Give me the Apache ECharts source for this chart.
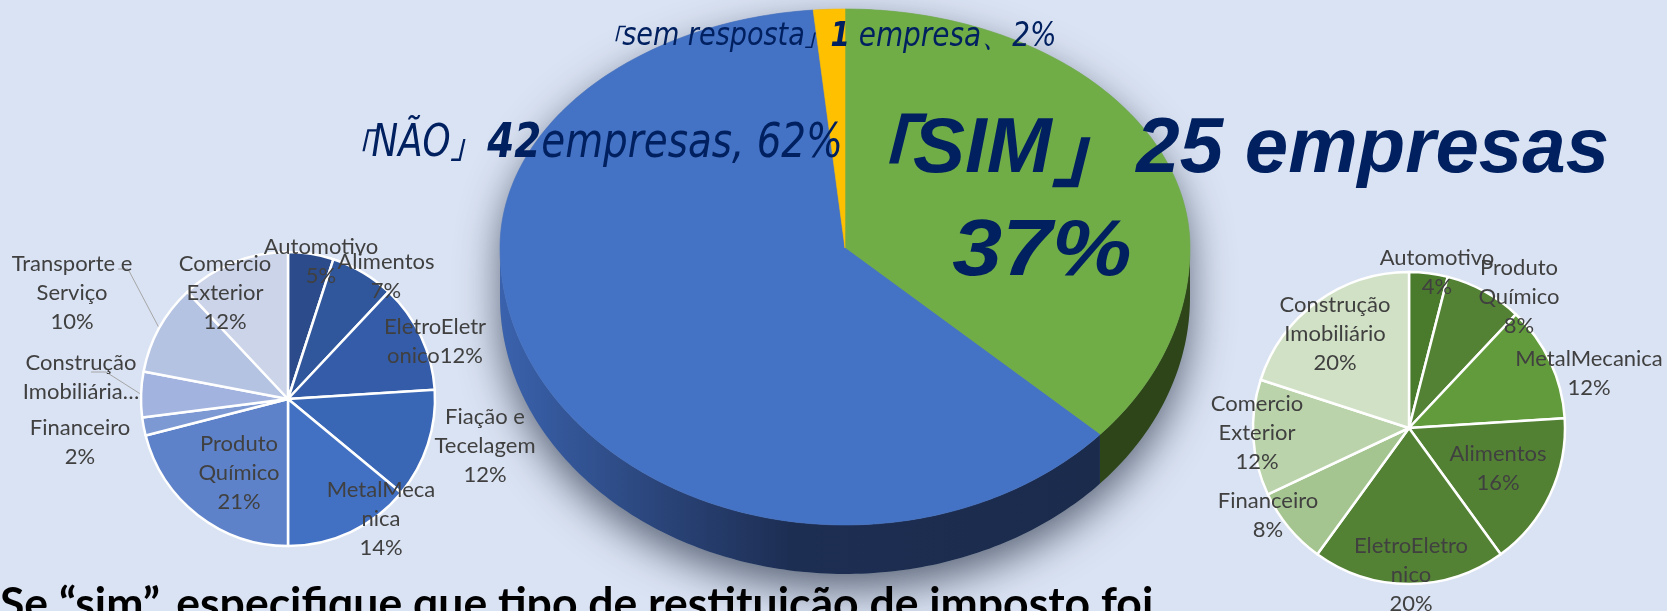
<!DOCTYPE html>
<html>
<head>
<meta charset="utf-8">
<script src="https://cdn.jsdelivr.net/npm/echarts@6/dist/echarts.min.js"></script>
<style>
html, body { margin: 0; padding: 0; background: #dae3f3; }
#chart { width: 1667px; height: 611px; }
</style>
</head>
<body>
<div id="chart"></div>
<script>
// main pie: answer, number of companies, printed percentage
var mainNames = ['SIM', 'NÃO', 'sem resposta'];
var mainCounts = [25, 42, 1];
var mainPct = ['37%', '62%', '2%'];
var mainUnit = ['empresas', 'empresas', 'empresa'];

// "NÃO" breakdown by sector (%)
var leftNames = ['Automotivo', 'Alimentos', 'EletroEletronico', 'Fiação e Tecelagem', 'MetalMecanica',
    'Produto Químico', 'Financeiro', 'Construção Imobiliária', 'Transporte e Serviço', 'Comercio Exterior'];
var leftValues = [5, 7, 12, 12, 14, 21, 2, 5, 10, 12];
var leftLabels = ['Automotivo\n5%', 'Alimentos\n7%', 'EletroEletr\nonico12%', 'Fiação e\nTecelagem\n12%',
    'MetalMeca\nnica\n14%', 'Produto\nQuímico\n21%', 'Financeiro\n2%', 'Construção\nImobiliária…',
    'Transporte e\nServiço\n10%', 'Comercio\nExterior\n12%'];

// "SIM" breakdown by sector (%)
var rightNames = ['Automotivo', 'Produto Químico', 'MetalMecanica', 'Alimentos', 'EletroEletronico',
    'Financeiro', 'Comercio Exterior', 'Construção Imobiliário'];
var rightValues = [4, 8, 12, 16, 20, 8, 12, 20];
var rightLabels = ['Automotivo\n4%', 'Produto\nQuímico\n8%', 'MetalMecanica\n12%', 'Alimentos\n16%',
    'EletroEletro\nnico\n20%', 'Financeiro\n8%', 'Comercio\nExterior\n12%', 'Construção\nImobiliário\n20%'];

var titleText = 'Se “sim”, especifique que tipo de restituição de imposto foi';

// styles and layout
var leftColors = ['#2b4b8a', '#30569b', '#345ca8', '#3a66b6', '#4270c3', '#5e82c9', '#7d99d4', '#a1b3de', '#b5c3e3', '#ccd4ea'];
var rightColors = ['#4a7a2c', '#548235', '#629b3c', '#538134', '#548235', '#a5c590', '#bad3aa', '#d1e1c5'];
var leftLabelAt = [[321, 261], [386, 276], [435, 341], [485, 446], [381, 519], [239, 473], [80, 442], [81, 377], [72, 293], [225, 293]];
var rightLabelAt = [[1437, 272], [1519, 297], [1589, 373], [1498, 468], [1411, 575], [1268, 515], [1257, 433], [1335, 334]];
var leftLeader = { 7: [[106, 372], [91, 372]], 8: [[128, 269], [118, 269]] };

var navy = '#002060';
var topColors = ['#70ad47', '#4472c4', '#ffc000'];
var sideColors = ['#2d4519', {
    type: 'linear', x: 500, y: 0, x2: 1190, y2: 0, global: true,
    colorStops: [{ offset: 0, color: '#3a62ad' }, { offset: 0.22, color: '#2b467c' },
        { offset: 0.42, color: '#1d2e53' }, { offset: 1, color: '#1a2a4a' }]
}, '#7f6000'];
var P = { cx: 845, cy: 248, rx: 345, ryTop: 239, ryBot: 277, depth: 49 };

var total = 0, cum = [0];
for (var i = 0; i < mainCounts.length; i++) {
    total += mainCounts[i];
    cum.push(total);
}

function rim(t, dz) {
    var c = Math.cos(t);
    return [P.cx + P.rx * Math.sin(t), P.cy - (c >= 0 ? P.ryTop : P.ryBot) * c + dz];
}
function arc(a0, a1, dz) {
    var pts = [];
    var n = Math.max(2, Math.ceil((a1 - a0) / (Math.PI / 180)));
    for (var k = 0; k <= n; k++) pts.push(rim(a0 + (a1 - a0) * k / n, dz));
    return pts;
}

function renderMain(params, api) {
    var i = params.dataIndex;
    var a0 = cum[i] / total * 2 * Math.PI;
    var a1 = (cum[i] + api.value(0)) / total * 2 * Math.PI;
    var kids = [];
    if (i === 0) {
        var sil = arc(-Math.PI / 2, Math.PI / 2, 0).concat(arc(Math.PI / 2, Math.PI * 1.5, P.depth));
        kids.push({
            type: 'polygon', shape: { points: sil },
            style: { fill: '#8f98a8', shadowBlur: 40, shadowColor: 'rgba(45,55,75,0.72)', shadowOffsetY: 16 }
        });
    }
    var s = Math.max(a0, Math.PI / 2), e = Math.min(a1, Math.PI * 1.5);
    if (e > s) {
        kids.push({
            type: 'polygon',
            shape: { points: arc(s, e, 0).concat(arc(s, e, P.depth).reverse()) },
            style: { fill: sideColors[i] }
        });
    }
    kids.push({
        type: 'polygon',
        shape: { points: [[P.cx, P.cy]].concat(arc(a0, a1, 0)) },
        style: { fill: topColors[i], stroke: topColors[i], lineWidth: 0.6 }
    });
    return { type: 'group', children: kids };
}

function sidePie(names, values, colors, labels, center, radius, labelAt, leader) {
    return {
        type: 'pie',
        center: center,
        radius: radius,
        startAngle: 90,
        clockwise: true,
        silent: true,
        animation: false,
        data: names.map(function (n, i) {
            var d = { name: n, value: values[i], itemStyle: { color: colors[i] } };
            if (leader && leader[i]) {
                d.label = { position: 'outside', overflow: 'none' };
                d.labelLine = { show: true, lineStyle: { color: '#a6a6a6', width: 1 } };
            }
            return d;
        }),
        itemStyle: { borderColor: '#ffffff', borderWidth: 2.5 },
        label: {
            show: true,
            position: 'inside',
            overflow: 'none',
            color: '#404040',
            fontFamily: 'Lato',
            fontSize: 22,
            lineHeight: 29,
            formatter: function (p) { return labels[p.dataIndex]; }
        },
        labelLine: { show: false },
        labelLayout: function (p) {
            var at = labelAt[p.dataIndex];
            var o = { x: at[0], y: at[1], align: 'center', verticalAlign: 'middle' };
            if (leader && leader[p.dataIndex] && p.labelLinePoints) {
                o.labelLinePoints = [p.labelLinePoints[0], leader[p.dataIndex][0], leader[p.dataIndex][1]];
            }
            return o;
        }
    };
}

var narrow = "'Liberation Sans Narrow', 'DejaVu Sans Condensed', sans-serif";
var wide = "'Liberation Sans', Arial, sans-serif";
var cjk = "'Noto Sans CJK JP', sans-serif";

var myChart = echarts.init(document.getElementById('chart'));
var option = {
    backgroundColor: '#dae3f3',
    animation: false,
    series: [
        {
            type: 'custom',
            coordinateSystem: 'none',
            silent: true,
            z: 1,
            renderItem: renderMain,
            data: mainCounts
        },
        sidePie(leftNames, leftValues, leftColors, leftLabels, [288, 399], 147, leftLabelAt, leftLeader),
        sidePie(rightNames, rightValues, rightColors, rightLabels, [1409, 428], 156, rightLabelAt, null)
    ],
    graphic: {
        zlevel: 1,
        elements: [
            {
                type: 'text', x: 828, y: 37, scaleX: 0.94, silent: true, z: 100,
                style: {
                    text: '{b|「}{n|' + mainNames[2] + '}{b|」} {num|' + mainCounts[2] + '}{t| ' + mainUnit[2] + '、' + mainPct[2] + '}',
                    align: 'center', verticalAlign: 'middle', textAlign: 'center', textVerticalAlign: 'middle',
                    fill: navy,
                    rich: {
                        b: { fontFamily: cjk, fontSize: 24, fontStyle: 'italic', fill: navy },
                        n: { fontFamily: narrow, fontSize: 32, fontStyle: 'italic', fill: navy },
                        num: { fontFamily: narrow, fontSize: 33, fontStyle: 'italic', fontWeight: 'bold', fill: navy },
                        t: { fontFamily: narrow, fontSize: 33, fontStyle: 'italic', fill: navy }
                    }
                }
            },
            {
                type: 'text', x: 592, y: 145, scaleX: 0.9, silent: true, z: 100,
                style: {
                    text: '{b|「}{n|' + mainNames[1] + '}{b|」}  {num|' + mainCounts[1] + '}{t|' + mainUnit[1] + ', ' + mainPct[1] + '}',
                    align: 'center', verticalAlign: 'middle', textAlign: 'center', textVerticalAlign: 'middle',
                    fill: navy,
                    rich: {
                        b: { fontFamily: cjk, fontSize: 34, fontStyle: 'italic', fill: navy },
                        n: { fontFamily: narrow, fontSize: 44, fontStyle: 'italic', fill: navy },
                        num: { fontFamily: narrow, fontSize: 48, fontStyle: 'italic', fontWeight: 'bold', fill: navy },
                        t: { fontFamily: narrow, fontSize: 48, fontStyle: 'italic', fill: navy }
                    }
                }
            },
            {
                type: 'text', x: 1222, y: 150, silent: true, z: 100,
                style: {
                    text: '{b|「}{n|' + mainNames[0] + '}{b|」}  {n|' + mainCounts[0] + ' ' + mainUnit[0] + '}',
                    align: 'center', verticalAlign: 'middle', textAlign: 'center', textVerticalAlign: 'middle',
                    fill: navy,
                    rich: {
                        b: { fontFamily: cjk, fontSize: 78, fontStyle: 'italic', fontWeight: 'bold', fill: navy },
                        n: { fontFamily: wide, fontSize: 78, fontStyle: 'italic', fontWeight: 'bold', fill: navy }
                    }
                }
            },
            {
                type: 'text', x: 1042, y: 253, scaleX: 1.12, silent: true, z: 100,
                style: {
                    text: mainPct[0],
                    align: 'center', verticalAlign: 'middle', textAlign: 'center', textVerticalAlign: 'middle',
                    fill: navy,
                    font: 'italic bold 80px ' + wide
                }
            },
            {
                type: 'text', x: 0, y: 582, silent: true, z: 100,
                style: {
                    text: titleText,
                    align: 'left', verticalAlign: 'top', textAlign: 'left', textVerticalAlign: 'top',
                    fill: '#000000',
                    font: 'bold 44.5px Lato'
                }
            }
        ]
    }
};
myChart.setOption(option);
</script>
</body>
</html>
